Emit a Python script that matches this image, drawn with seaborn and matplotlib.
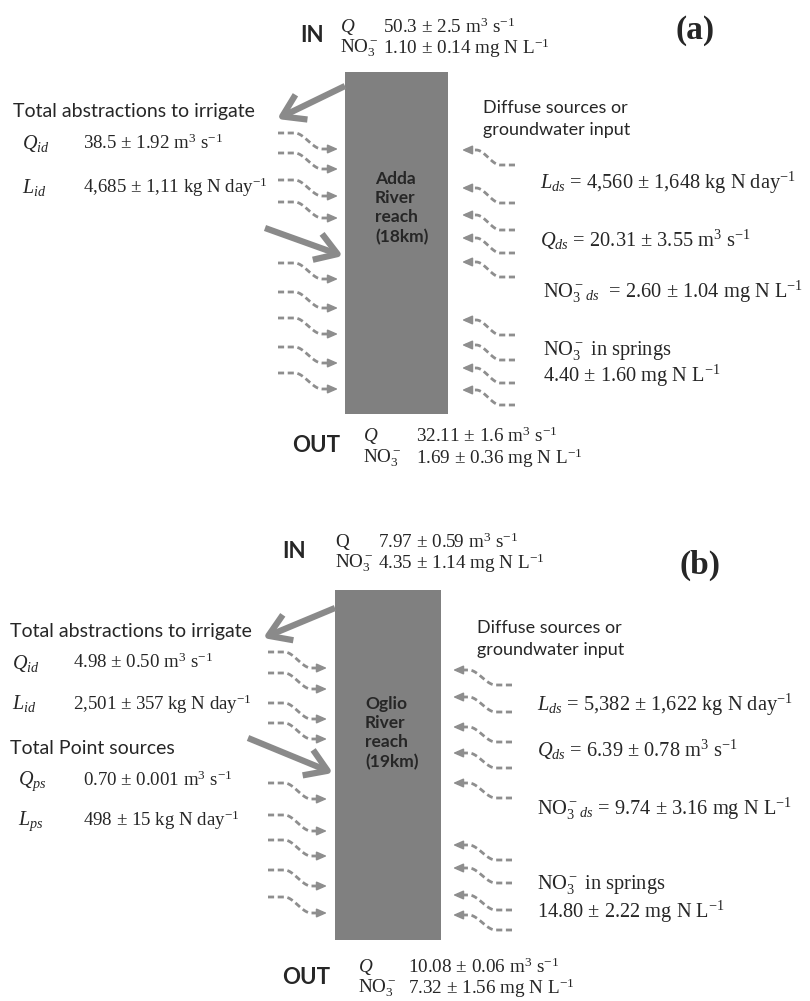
import numpy as np
import matplotlib
matplotlib.use("Agg")
import matplotlib.pyplot as plt
import seaborn as sns
from matplotlib.patches import Rectangle

# ----------------------------------------------------------
# Values shown in the two river-reach balance diagrams
# ----------------------------------------------------------

RIVERS = ["Adda", "Oglio"]
REACH_KM = [18, 19]
PANEL_TAGS = ["(a)", "(b)"]

IN_Q = ["50.3 ± 2.5", "7.97 ± 0.59"]
IN_NO3 = ["1.10 ± 0.14", "4.35 ± 1.14"]
OUT_Q = ["32.11 ± 1.6", "10.08 ± 0.06"]
OUT_NO3 = ["1.69 ± 0.36", "7.32 ± 1.56"]

Q_ID = ["38.5 ± 1.92", "4.98 ± 0.50"]
L_ID = ["4,685 ± 1,11", "2,501 ± 357"]
Q_PS = [None, "0.70 ± 0.001"]
L_PS = [None, "498 ± 15"]

L_DS = ["4,560 ± 1,648", "5,382 ± 1,622"]
Q_DS = ["20.31 ± 3.55", "6.39 ± 0.78"]
NO3_DS = ["2.60 ± 1.04", "9.74 ± 3.16"]
NO3_SPRINGS = ["4.40 ± 1.60", "14.80 ± 2.22"]

# units
U_Q = " m$^3$ s$^{-1}$"
U_C = " mg N L$^{-1}$"
U_L = " kg N day$^{-1}$"

# ----------------------------------------------------------
# Layout (pixel coordinates, y downwards)
# ----------------------------------------------------------

LAYOUT = [
    dict(in_xy=(300, 35), q_x=340, val_x=383, in_y=(27, 48), q_italic=True,
         tag_xy=(695, 30), rect=(345, 72, 448, 414), river_xy=(375, 208),
         abstr=((345, 86), (277, 119)), point=((265, 228), (343, 256)),
         left_x=13, lab_x=22, val_lx=83, abstr_y=112, qid_y=144, lid_y=187,
         ps_y=None, qps_y=None, lps_y=None,
         diff_xy=(483, 119), rx=540, lds_y=183, qds_y=240, nds_y=292,
         spr_y=(350, 376),
         out_xy=(292, 445), out_qx=363, out_vx=416, out_y=(436, 458),
         wl_x=(278, 338), wl_y=[133, 153, 180, 202, 263, 292, 318, 347, 373],
         wr_x=(462, 515), wr_y=[150, 188, 215, 238, 262, 320, 345, 368, 390]),
    dict(in_xy=(282, 552), q_x=335, val_x=378, in_y=(542, 563), q_italic=False,
         tag_xy=(700, 565), rect=(335, 590, 441, 940), river_xy=(365, 733),
         abstr=((335, 608), (263, 638)), point=((248, 738), (333, 773)),
         left_x=10, lab_x=12, val_lx=73, abstr_y=632, qid_y=663, lid_y=704,
         ps_y=748, qps_y=781, lps_y=821,
         diff_xy=(477, 639), rx=537, lds_y=705, qds_y=750, nds_y=809,
         spr_y=(885, 912),
         out_xy=(282, 978), out_qx=358, out_vx=408, out_y=(967, 988),
         wl_x=(268, 327), wl_y=[652, 673, 703, 723, 783, 815, 840, 870, 897],
         wr_x=(453, 512), wr_y=[670, 697, 727, 753, 783, 845, 868, 895, 915]),
]

SERIF = "Liberation Serif"
SANS = "Lato"
RECT_COLOR = "#808080"
ARROW_COLOR = "#8a8a8a"
WAVE_COLOR = "#8e8e8e"
VAL_SIZE = 14.7
LEFT_SIZE = 13.6
TOP_SIZE = 13.8

sns.set_theme(style="white")
plt.rcParams["mathtext.fontset"] = "custom"
plt.rcParams["mathtext.rm"] = SERIF
plt.rcParams["mathtext.it"] = SERIF + ":italic"
plt.rcParams["mathtext.bf"] = SERIF + ":bold"

fig = plt.figure(figsize=(8.1, 10.01), dpi=100)
ax = fig.add_axes([0, 0, 1, 1])
ax.set_xlim(0, 810)
ax.set_ylim(1001, 0)
ax.axis("off")


def serif(x, y, s, size=VAL_SIZE, **kw):
    ax.text(x, y, s, fontfamily=SERIF, fontsize=size, va="center", ha="left", **kw)


def sans(x, y, s, size=13, weight="normal", **kw):
    ax.text(x, y, s, fontfamily=SANS, fontsize=size, fontweight=weight,
            va="center", ha="left", **kw)


def wave(x0, y0, x1, y1):
    # dashed S-shaped arrow from (x0, y0) to (x1, y1), head at (x1, y1)
    t = np.linspace(0, 1, 60)
    s = np.clip((t - 0.28) / 0.45, 0, 1)
    s = s * s * (3 - 2 * s)
    xs = x0 + (x1 - x0) * t
    ys = y0 + (y1 - y0) * s
    ax.plot(xs[:-4], ys[:-4], color=WAVE_COLOR, lw=2.0,
            linestyle=(0, (2.2, 1.3)), solid_capstyle="butt")
    ax.annotate("", xy=(x1, y1), xytext=(xs[-6], y1),
                arrowprops=dict(arrowstyle="-|>,head_length=0.5,head_width=0.22",
                                color=WAVE_COLOR, lw=1.2, mutation_scale=12,
                                shrinkA=0, shrinkB=0))


def big_arrow(start, tip):
    ax.annotate("", xy=tip, xytext=start,
                arrowprops=dict(arrowstyle="->,head_length=0.7,head_width=0.45",
                                color=ARROW_COLOR, lw=4.5, mutation_scale=22,
                                shrinkA=0, shrinkB=0, capstyle="butt"))


for i, lay in enumerate(LAYOUT):
    # IN block
    sans(*lay["in_xy"], "IN", size=16, weight="bold")
    qlab = "$Q$" if lay["q_italic"] else "Q"
    serif(lay["q_x"], lay["in_y"][0], qlab, size=TOP_SIZE)
    serif(lay["val_x"], lay["in_y"][0], IN_Q[i] + U_Q, size=TOP_SIZE)
    serif(lay["q_x"], lay["in_y"][1], "NO$_3^-$", size=TOP_SIZE)
    serif(lay["val_x"], lay["in_y"][1], IN_NO3[i] + U_C, size=TOP_SIZE)

    # panel tag
    ax.text(*lay["tag_xy"], PANEL_TAGS[i], fontfamily=SERIF, fontsize=24,
            fontweight="bold", ha="center", va="center")

    # river reach box
    x0, y0, x1, y1 = lay["rect"]
    ax.add_patch(Rectangle((x0, y0), x1 - x0, y1 - y0, facecolor=RECT_COLOR,
                           edgecolor="none", zorder=1))
    sans(*lay["river_xy"], f"{RIVERS[i]}\nRiver\nreach\n({REACH_KM[i]}km)",
         size=12.5, weight="bold", linespacing=1.25, zorder=3)

    # abstraction and point-source arrows
    big_arrow(*lay["abstr"])
    big_arrow(*lay["point"])

    # left side texts
    sans(lay["left_x"], lay["abstr_y"], "Total abstractions to irrigate", size=14)
    serif(lay["lab_x"], lay["qid_y"], "$Q_{id}$", size=14.5)
    serif(lay["val_lx"], lay["qid_y"] - 1, Q_ID[i] + U_Q, size=LEFT_SIZE)
    serif(lay["lab_x"], lay["lid_y"], "$L_{id}$", size=14.5)
    serif(lay["val_lx"], lay["lid_y"], L_ID[i] + U_L, size=LEFT_SIZE)
    if Q_PS[i] is not None:
        sans(lay["left_x"], lay["ps_y"], "Total Point sources", size=14)
        serif(lay["lab_x"] + 6, lay["qps_y"], "$Q_{ps}$", size=14.5)
        serif(lay["val_lx"] + 10, lay["qps_y"] - 1, Q_PS[i] + U_Q, size=LEFT_SIZE)
        serif(lay["lab_x"] + 6, lay["lps_y"], "$L_{ps}$", size=14.5)
        serif(lay["val_lx"] + 10, lay["lps_y"] - 1, L_PS[i] + U_L, size=LEFT_SIZE)

    # right side texts
    sans(*lay["diff_xy"], "Diffuse sources or\ngroundwater input", size=13,
         linespacing=1.4)
    serif(lay["rx"], lay["lds_y"], "$L_{ds}$ = " + L_DS[i] + U_L)
    serif(lay["rx"], lay["qds_y"], "$Q_{ds}$ = " + Q_DS[i] + U_Q)
    gap = "  " if i == 0 else " "
    shift = 3 if i == 0 else 0
    serif(lay["rx"] + shift, lay["nds_y"],
          "NO$_3^-$$_{ds}$" + gap + "= " + NO3_DS[i] + U_C)
    serif(lay["rx"] + shift, lay["spr_y"][0], "NO$_3^-$ in springs")
    serif(lay["rx"] + shift, lay["spr_y"][1], NO3_SPRINGS[i] + U_C)

    # OUT block
    sans(*lay["out_xy"], "OUT", size=16, weight="bold")
    serif(lay["out_qx"], lay["out_y"][0], "$Q$", size=TOP_SIZE)
    serif(lay["out_vx"], lay["out_y"][0], OUT_Q[i] + U_Q, size=TOP_SIZE)
    serif(lay["out_qx"], lay["out_y"][1], "NO$_3^-$", size=TOP_SIZE)
    serif(lay["out_vx"], lay["out_y"][1], OUT_NO3[i] + U_C, size=TOP_SIZE)

    # diffuse inflow arrows
    for y in lay["wl_y"]:
        wave(lay["wl_x"][0], y, lay["wl_x"][1], y + 16)
    for y in lay["wr_y"]:
        wave(lay["wr_x"][1], y + 15, lay["wr_x"][0], y)

fig.savefig("out.png", dpi=100)
